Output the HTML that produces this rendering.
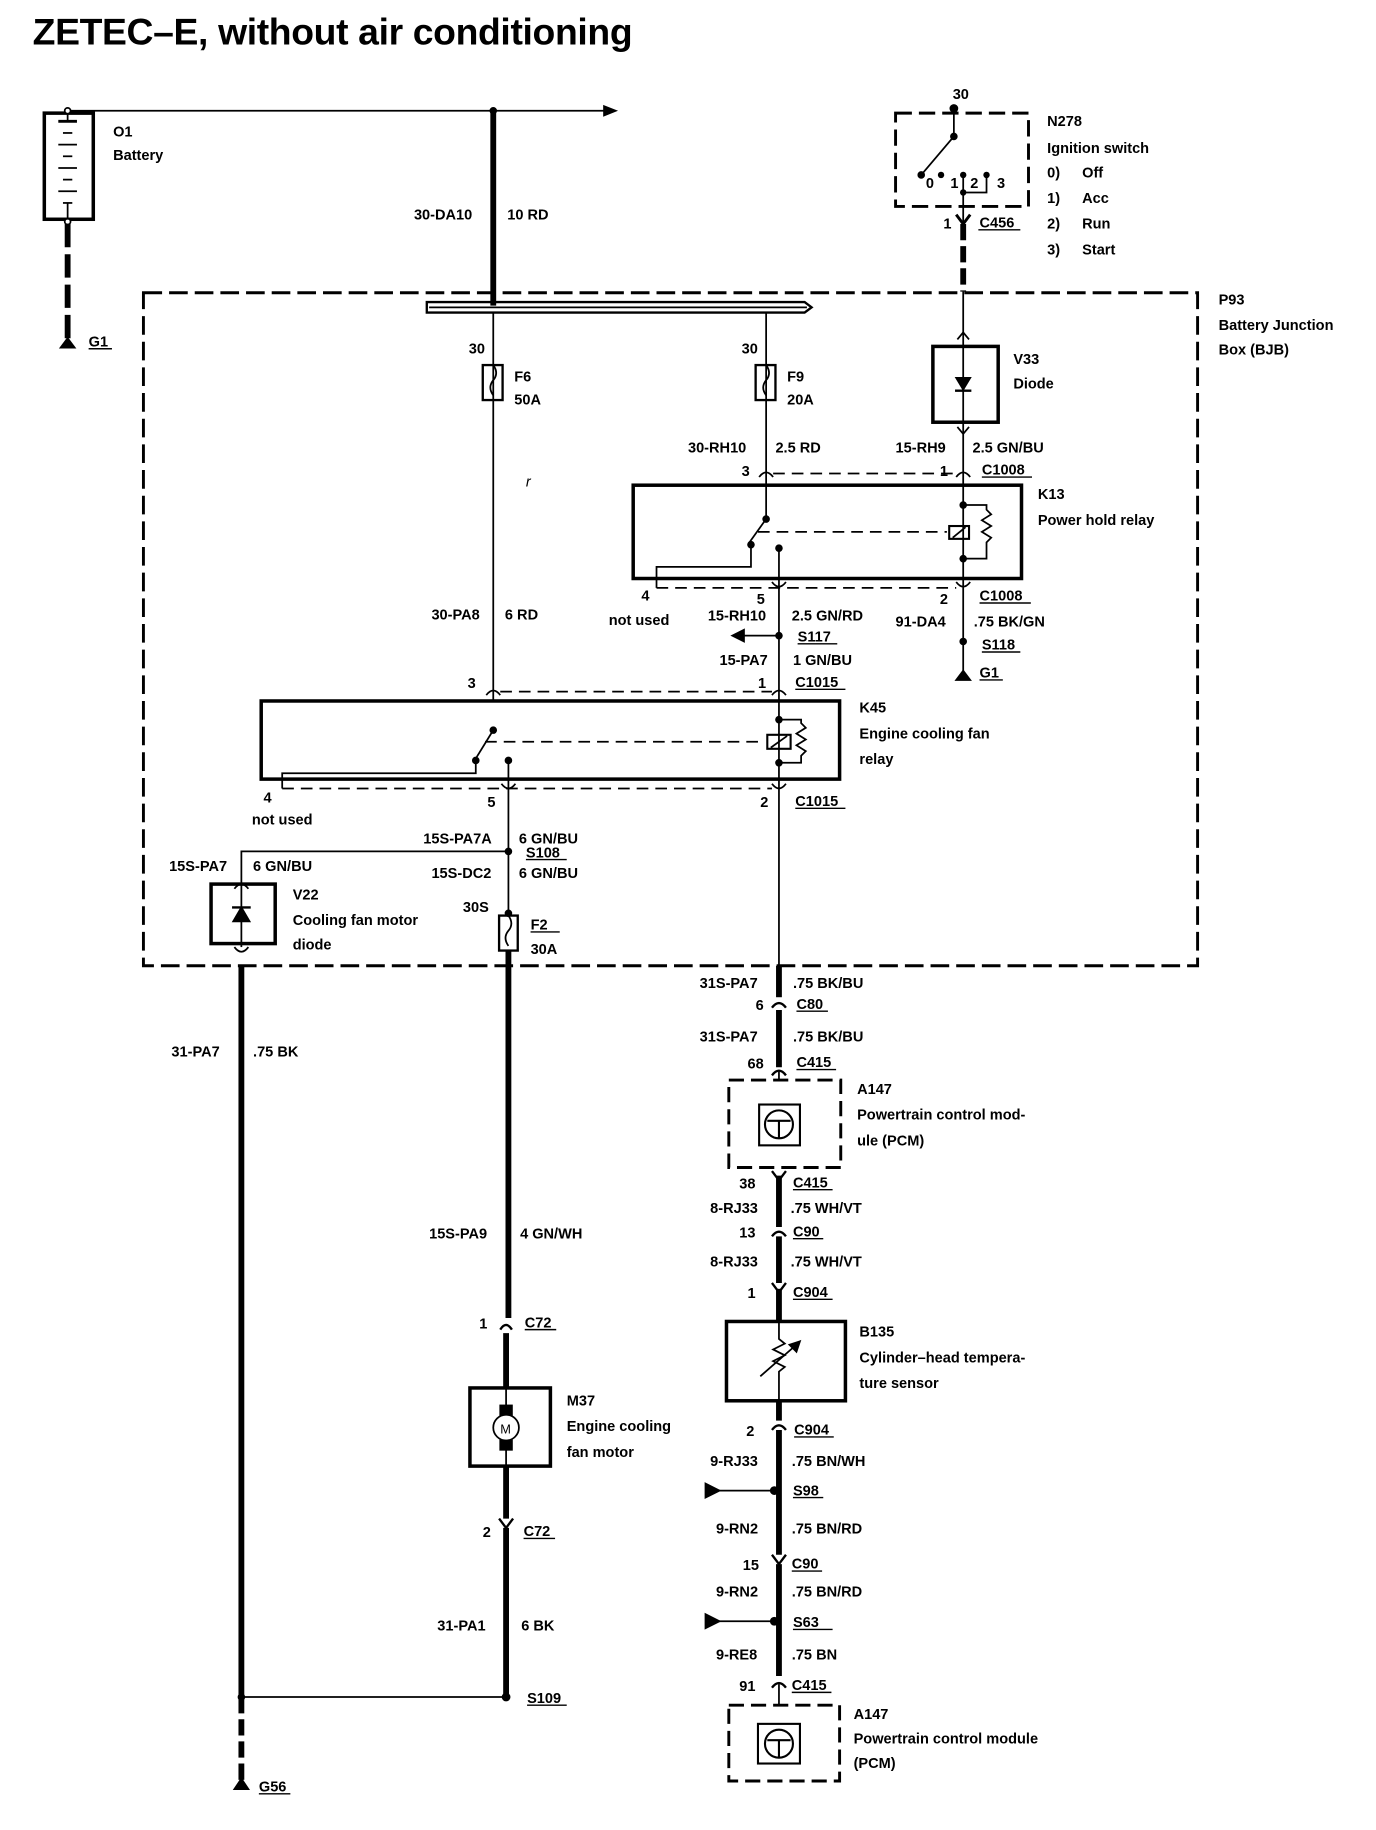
<!DOCTYPE html>
<html><head><meta charset="utf-8">
<style>
html,body{margin:0;padding:0;background:#fff;}
svg{display:block;}
text{font-family:"Liberation Sans",Arial,sans-serif;font-size:12.5px;font-weight:bold;fill:#000;}
.t{font-size:32px;letter-spacing:-0.3px;}
</style></head>
<body>
<svg width="1376" height="1830" viewBox="0 0 1180 1569" preserveAspectRatio="none" xmlns="http://www.w3.org/2000/svg">
<text class="t" x="28" y="38">ZETEC–E, without air conditioning</text>

<g fill="none" stroke="#000" stroke-width="1.5">
<!-- battery -->
<rect x="38" y="97" width="42" height="91" stroke-width="3"/>
<line x1="58" y1="95" x2="520" y2="95"/>
<polygon points="518,91 528,95 518,99" fill="#000"/>
<line x1="58" y1="98" x2="58" y2="104"/>
<line x1="50" y1="104" x2="66" y2="104" stroke-width="2.5"/>
<line x1="54" y1="114" x2="62" y2="114"/>
<line x1="50" y1="124" x2="66" y2="124"/>
<line x1="54" y1="134" x2="62" y2="134"/>
<line x1="50" y1="144" x2="66" y2="144"/>
<line x1="54" y1="154" x2="62" y2="154"/>
<line x1="50" y1="164" x2="66" y2="164"/>
<line x1="54" y1="174" x2="62" y2="174"/>
<line x1="58" y1="174" x2="58" y2="188"/>
<circle cx="58" cy="95" r="2.5" fill="#fff"/>
<circle cx="58" cy="190" r="2.5" fill="#fff"/>
<line x1="58" y1="192" x2="58" y2="292" stroke-width="5" stroke-dasharray="20,6"/>
<polygon points="52,298 64,298 58,290" fill="#000"/>

<line x1="423" y1="95" x2="423" y2="262" stroke-width="5"/>
<circle cx="423" cy="95" r="2.5" fill="#000"/>

<rect x="123" y="251" width="904" height="577" stroke-width="2.5" stroke-dasharray="16,6"/>

<path d="M366,259 L690,259 L696,263.5 L690,268 L366,268 Z" stroke-width="2"/>
<line x1="368" y1="263.5" x2="692" y2="263.5" stroke-width="1.5"/>

<line x1="423" y1="268" x2="423" y2="600"/>
<rect x="414" y="313" width="17" height="30" stroke-width="2"/>
<path d="M423,313 q5,7 0,13 q-5,6 0,13"/>
<line x1="657" y1="268" x2="657" y2="445"/>
<rect x="648" y="313" width="17" height="30" stroke-width="2"/>
<path d="M657,313 q5,7 0,13 q-5,6 0,13"/>

<rect x="768" y="97" width="114" height="80" stroke-width="2.5" stroke-dasharray="14,6"/>
<line x1="818" y1="93" x2="818" y2="117"/>
<circle cx="818" cy="93" r="3" fill="#000"/>
<circle cx="818" cy="117" r="2.5" fill="#000"/>
<line x1="818" y1="117" x2="790" y2="150"/>
<circle cx="790" cy="150" r="2.5" fill="#000"/>
<circle cx="807" cy="150" r="2" fill="#000"/>
<circle cx="826" cy="150" r="2" fill="#000"/>
<circle cx="846" cy="150" r="2" fill="#000"/>
<line x1="826" y1="150" x2="826" y2="198"/>
<path d="M826,165 L846,165 L846,150"/>
<circle cx="826" cy="165" r="2" fill="#000"/>
<path d="M820,184 L826,192 L832,184" stroke-width="2.5"/>
<line x1="826" y1="192" x2="826" y2="250" stroke-width="5" stroke-dasharray="14,5"/>
<line x1="826" y1="250" x2="826" y2="297"/>
<path d="M821,291 L826,285 L831,291" stroke-width="1.5"/>

<rect x="800" y="297" width="56" height="65" stroke-width="3"/>
<line x1="826" y1="297" x2="826" y2="362"/>
<polygon points="820,324 832,324 826,334" fill="#000"/>
<line x1="819" y1="335" x2="833" y2="335" stroke-width="2"/>
<line x1="826" y1="362" x2="826" y2="580"/>
<path d="M821,366 L826,372 L831,366"/>

<path d="M651,409 q6,-8 12,0"/>
<path d="M820,409 q6,-8 12,0"/>
<line x1="663" y1="406" x2="820" y2="406" stroke-dasharray="10,6"/>

<rect x="543" y="416" width="333" height="80" stroke-width="3"/>
<circle cx="657" cy="445" r="2.5" fill="#000"/>
<line x1="657" y1="445" x2="642" y2="466"/>
<circle cx="644" cy="467" r="2.5" fill="#000"/>
<path d="M644,467 L644,486 L563,486 L563,504"/>
<line x1="650" y1="456" x2="812" y2="456" stroke-dasharray="10,6"/>
<rect x="814" y="451" width="17" height="11" stroke-width="1.8"/>
<line x1="817" y1="461" x2="828" y2="452"/>
<circle cx="826" cy="433" r="2.5" fill="#000"/>
<circle cx="826" cy="479" r="2.5" fill="#000"/>
<path d="M826,433 L846,433 L846,437 l4,4 l-8,5 l8,5 l-8,5 l8,5 l-4,4 L846,479 L826,479"/>
<circle cx="668" cy="470" r="2.5" fill="#000"/>
<line x1="668" y1="470" x2="668" y2="600"/>
<line x1="563" y1="504" x2="820" y2="504" stroke-dasharray="10,6"/>
<path d="M662,499 q6,8 12,0"/>
<path d="M820,499 q6,8 12,0"/>
<circle cx="668" cy="545" r="2.5" fill="#000"/>
<line x1="636" y1="545" x2="668" y2="545"/>
<polygon points="628,545 638,540 638,550" fill="#000"/>
<circle cx="826" cy="550" r="2.5" fill="#000"/>
<polygon points="820,583 832,583 826,575" fill="#000"/>

<path d="M417,596 q6,-8 12,0"/>
<path d="M662,596 q6,-8 12,0"/>
<line x1="429" y1="593" x2="662" y2="593" stroke-dasharray="10,6"/>

<rect x="224" y="601" width="496" height="67" stroke-width="3"/>
<circle cx="423" cy="626" r="2.5" fill="#000"/>
<line x1="423" y1="626" x2="407" y2="652"/>
<circle cx="408" cy="652" r="2.5" fill="#000"/>
<path d="M408,652 L408,663 L242,663 L242,676"/>
<line x1="416" y1="636" x2="656" y2="636" stroke-dasharray="10,6"/>
<rect x="658" y="630" width="20" height="12" stroke-width="1.8"/>
<line x1="661" y1="641" x2="675" y2="631"/>
<circle cx="668" cy="617" r="2.5" fill="#000"/>
<circle cx="668" cy="654" r="2.5" fill="#000"/>
<path d="M668,617 L687,617 L687,620 l4,4 l-8,5 l8,5 l-8,5 l8,5 l-4,4 L687,654 L668,654"/>
<line x1="668" y1="600" x2="668" y2="828"/>
<circle cx="436" cy="652" r="2.5" fill="#000"/>
<line x1="436" y1="652" x2="436" y2="783"/>
<line x1="242" y1="676" x2="662" y2="676" stroke-dasharray="10,6"/>
<path d="M430,672 q6,8 12,0"/>
<path d="M662,672 q6,8 12,0"/>

<circle cx="436" cy="730" r="2.5" fill="#000"/>
<path d="M436,730 L207,730 L207,758"/>
<path d="M201,762 q6,-8 12,0"/>
<rect x="181" y="758" width="55" height="51" stroke-width="3"/>
<line x1="207" y1="758" x2="207" y2="812"/>
<polygon points="200,790 214,790 207,778" fill="#000"/>
<line x1="199" y1="778" x2="215" y2="778" stroke-width="2"/>
<path d="M201,812 q6,8 12,0"/>
<line x1="207" y1="828" x2="207" y2="1455" stroke-width="5"/>
<line x1="207" y1="1455" x2="207" y2="1526" stroke-width="5" stroke-dasharray="14,5"/>
<polygon points="201,1534 213,1534 207,1525" fill="#000"/>

<circle cx="436" cy="783" r="2.5" fill="#000"/>
<rect x="428" y="785" width="16" height="30" stroke-width="2"/>
<path d="M436,785 q5,7 0,13 q-5,6 0,13"/>
<line x1="436" y1="815" x2="436" y2="1130" stroke-width="5"/>
<path d="M429,1140 q5,-8 10,0" stroke-width="2"/>
<line x1="434" y1="1143" x2="434" y2="1190" stroke-width="5"/>
<rect x="403" y="1190" width="69" height="67" stroke-width="3"/>
<line x1="434" y1="1190" x2="434" y2="1257"/>
<rect x="429" y="1205" width="10" height="8" fill="#000"/>
<rect x="429" y="1235" width="10" height="8" fill="#000"/>
<circle cx="434" cy="1224" r="11" fill="#fff" stroke-width="1.5"/>
<line x1="434" y1="1257" x2="434" y2="1302" stroke-width="5"/>
<path d="M428,1302 L434,1310 L440,1302" stroke-width="2"/>
<line x1="434" y1="1310" x2="434" y2="1455" stroke-width="5"/>
<circle cx="434" cy="1455" r="3" fill="#000"/>
<line x1="207" y1="1455" x2="434" y2="1455"/>
<circle cx="207" cy="1455" r="2.5" fill="#000"/>

<line x1="668" y1="828" x2="668" y2="855" stroke-width="5"/>
<path d="M662,864 q6,-8 12,0" stroke-width="2"/>
<line x1="668" y1="866" x2="668" y2="915" stroke-width="5"/>
<path d="M662,922 q6,-8 12,0" stroke-width="2"/>
<line x1="668" y1="919" x2="668" y2="926"/>
<rect x="625" y="926" width="96" height="75" stroke-width="2.5" stroke-dasharray="13,6"/>
<rect x="651" y="947" width="35" height="35" stroke-width="1.8"/>
<circle cx="668" cy="964" r="12" stroke-width="1.8"/>
<path d="M658,961 L678,961 M668,961 L668,976" stroke-width="1.8"/>
<path d="M662,1004 L668,1012 L674,1004" stroke-width="2"/>
<line x1="668" y1="1008" x2="668" y2="1052" stroke-width="5"/>
<path d="M662,1060 q6,-8 12,0" stroke-width="2"/>
<line x1="668" y1="1060" x2="668" y2="1100" stroke-width="5"/>
<path d="M662,1100 L668,1108 L674,1100" stroke-width="2"/>
<line x1="668" y1="1105" x2="668" y2="1133" stroke-width="5"/>
<rect x="623" y="1133" width="102" height="68" stroke-width="3"/>
<path d="M668,1133 L668,1148 l5,4 l-10,5 l10,5 l-10,5 l10,5 l-5,4 L668,1201"/>
<line x1="652" y1="1180" x2="684" y2="1152"/>
<polygon points="686,1150 677,1153 683,1159" fill="#000"/>
<line x1="668" y1="1201" x2="668" y2="1218" stroke-width="5"/>
<path d="M662,1226 q6,-8 12,0" stroke-width="2"/>
<line x1="668" y1="1226" x2="668" y2="1333" stroke-width="5"/>
<circle cx="664" cy="1278" r="3" fill="#000"/>
<line x1="615" y1="1278" x2="664" y2="1278"/>
<polygon points="605,1272 605,1284 617,1278" fill="#000"/>
<path d="M662,1333 L668,1341 L674,1333" stroke-width="2"/>
<line x1="668" y1="1341" x2="668" y2="1437" stroke-width="5"/>
<circle cx="664" cy="1390" r="3" fill="#000"/>
<line x1="615" y1="1390" x2="664" y2="1390"/>
<polygon points="605,1384 605,1396 617,1390" fill="#000"/>
<path d="M662,1447 q6,-8 12,0" stroke-width="2"/>
<line x1="668" y1="1444" x2="668" y2="1462"/>
<rect x="625" y="1462" width="95" height="65" stroke-width="2.5" stroke-dasharray="13,6"/>
<rect x="650" y="1478" width="36" height="34" stroke-width="1.8"/>
<circle cx="668" cy="1495" r="12" stroke-width="1.8"/>
<path d="M658,1492 L678,1492 M668,1492 L668,1507" stroke-width="1.8"/>
</g>

<g stroke="#000" stroke-width="1.2">
<line x1="76" y1="299" x2="96" y2="299"/>
<line x1="839" y1="197" x2="875" y2="197"/>
<line x1="842" y1="409" x2="885" y2="409"/>
<line x1="840" y1="517" x2="884" y2="517"/>
<line x1="684" y1="552" x2="718" y2="552"/>
<line x1="842" y1="559" x2="875" y2="559"/>
<line x1="840" y1="583" x2="860" y2="583"/>
<line x1="682" y1="591" x2="725" y2="591"/>
<line x1="682" y1="693" x2="725" y2="693"/>
<line x1="451" y1="737" x2="486" y2="737"/>
<line x1="455" y1="799" x2="480" y2="799"/>
<line x1="683" y1="867" x2="710" y2="867"/>
<line x1="683" y1="917" x2="717" y2="917"/>
<line x1="680" y1="1020" x2="714" y2="1020"/>
<line x1="680" y1="1062" x2="706" y2="1062"/>
<line x1="680" y1="1114" x2="714" y2="1114"/>
<line x1="450" y1="1140" x2="477" y2="1140"/>
<line x1="681" y1="1232" x2="715" y2="1232"/>
<line x1="680" y1="1284" x2="706" y2="1284"/>
<line x1="449" y1="1319" x2="476" y2="1319"/>
<line x1="679" y1="1347" x2="705" y2="1347"/>
<line x1="680" y1="1397" x2="714" y2="1397"/>
<line x1="679" y1="1451" x2="713" y2="1451"/>
<line x1="452" y1="1462" x2="486" y2="1462"/>
<line x1="222" y1="1538" x2="249" y2="1538"/>
</g>

<text x="97" y="117">O1</text>
<text x="97" y="137">Battery</text>
<text x="355" y="188">30-DA10</text>
<text x="435" y="188">10 RD</text>
<text x="76" y="297">G1</text>
<text x="817" y="85">30</text>
<text x="898" y="108">N278</text>
<text x="898" y="131">Ignition switch</text>
<text x="898" y="152">0)</text><text x="928" y="152">Off</text>
<text x="898" y="174">1)</text><text x="928" y="174">Acc</text>
<text x="898" y="196">2)</text><text x="928" y="196">Run</text>
<text x="898" y="218">3)</text><text x="928" y="218">Start</text>
<text x="794" y="161">0</text><text x="815" y="161">1</text><text x="832" y="161">2</text><text x="855" y="161">3</text>
<text x="809" y="196">1</text>
<text x="840" y="195">C456</text>
<text x="1045" y="261">P93</text>
<text x="1045" y="283">Battery Junction</text>
<text x="1045" y="304">Box (BJB)</text>
<text x="402" y="303">30</text>
<text x="636" y="303">30</text>
<text x="441" y="327">F6</text><text x="441" y="347">50A</text>
<text x="675" y="327">F9</text><text x="675" y="347">20A</text>
<text x="869" y="312">V33</text><text x="869" y="333">Diode</text>
<text x="590" y="388">30-RH10</text><text x="665" y="388">2.5 RD</text>
<text x="768" y="388">15-RH9</text><text x="834" y="388">2.5 GN/BU</text>
<text x="636" y="408">3</text><text x="806" y="408">1</text>
<text x="842" y="407">C1008</text>
<text x="890" y="428">K13</text><text x="890" y="450">Power hold relay</text>
<text x="451" y="417" style="font-style:italic;font-weight:normal">r</text>
<text x="550" y="515">4</text><text x="522" y="536">not used</text>
<text x="649" y="518">5</text><text x="806" y="518">2</text>
<text x="840" y="515">C1008</text>
<text x="370" y="531">30-PA8</text><text x="433" y="531">6 RD</text>
<text x="607" y="532">15-RH10</text><text x="679" y="532">2.5 GN/RD</text>
<text x="768" y="537">91-DA4</text><text x="835" y="537">.75 BK/GN</text>
<text x="684" y="550">S117</text><text x="842" y="557">S118</text>
<text x="617" y="570">15-PA7</text><text x="680" y="570">1 GN/BU</text>
<text x="840" y="581">G1</text>
<text x="401" y="590">3</text><text x="650" y="590">1</text><text x="682" y="589">C1015</text>
<text x="737" y="611">K45</text><text x="737" y="633">Engine cooling fan</text><text x="737" y="655">relay</text>
<text x="226" y="688">4</text><text x="216" y="707">not used</text>
<text x="418" y="692">5</text><text x="652" y="692">2</text><text x="682" y="691">C1015</text>
<text x="363" y="723">15S-PA7A</text><text x="445" y="723">6 GN/BU</text>
<text x="451" y="735">S108</text>
<text x="145" y="747">15S-PA7</text><text x="217" y="747">6 GN/BU</text>
<text x="370" y="753">15S-DC2</text><text x="445" y="753">6 GN/BU</text>
<text x="251" y="771">V22</text><text x="251" y="793">Cooling fan motor</text><text x="251" y="814">diode</text>
<text x="397" y="782">30S</text>
<text x="455" y="797">F2</text><text x="455" y="818">30A</text>
<text x="600" y="847">31S-PA7</text><text x="680" y="847">.75 BK/BU</text>
<text x="648" y="866">6</text><text x="683" y="865">C80</text>
<text x="600" y="893">31S-PA7</text><text x="680" y="893">.75 BK/BU</text>
<text x="641" y="916">68</text><text x="683" y="915">C415</text>
<text x="147" y="906">31-PA7</text><text x="217" y="906">.75 BK</text>
<text x="735" y="938">A147</text><text x="735" y="960">Powertrain control mod-</text><text x="735" y="982">ule (PCM)</text>
<text x="634" y="1019">38</text><text x="680" y="1018">C415</text>
<text x="609" y="1040">8-RJ33</text><text x="678" y="1040">.75 WH/VT</text>
<text x="634" y="1061">13</text><text x="680" y="1060">C90</text>
<text x="368" y="1062">15S-PA9</text><text x="446" y="1062">4 GN/WH</text>
<text x="609" y="1086">8-RJ33</text><text x="678" y="1086">.75 WH/VT</text>
<text x="641" y="1113">1</text><text x="680" y="1112">C904</text>
<text x="411" y="1139">1</text><text x="450" y="1138">C72</text>
<text x="737" y="1146">B135</text><text x="737" y="1168">Cylinder–head tempera-</text><text x="737" y="1190">ture sensor</text>
<text x="486" y="1205">M37</text><text x="486" y="1227">Engine cooling</text><text x="486" y="1249">fan motor</text>
<text x="429" y="1229" style="font-size:11px;font-weight:normal">M</text>
<text x="640" y="1231">2</text><text x="681" y="1230">C904</text>
<text x="609" y="1257">9-RJ33</text><text x="679" y="1257">.75 BN/WH</text>
<text x="680" y="1282">S98</text>
<text x="614" y="1315">9-RN2</text><text x="679" y="1315">.75 BN/RD</text>
<text x="414" y="1318">2</text><text x="449" y="1317">C72</text>
<text x="637" y="1346">15</text><text x="679" y="1345">C90</text>
<text x="614" y="1369">9-RN2</text><text x="679" y="1369">.75 BN/RD</text>
<text x="375" y="1398">31-PA1</text><text x="447" y="1398">6 BK</text>
<text x="680" y="1395">S63</text>
<text x="614" y="1423">9-RE8</text><text x="679" y="1423">.75 BN</text>
<text x="634" y="1450">91</text><text x="679" y="1449">C415</text>
<text x="452" y="1460">S109</text>
<text x="732" y="1474">A147</text><text x="732" y="1495">Powertrain control module</text><text x="732" y="1516">(PCM)</text>
<text x="222" y="1536">G56</text>
</svg>
</body></html>
